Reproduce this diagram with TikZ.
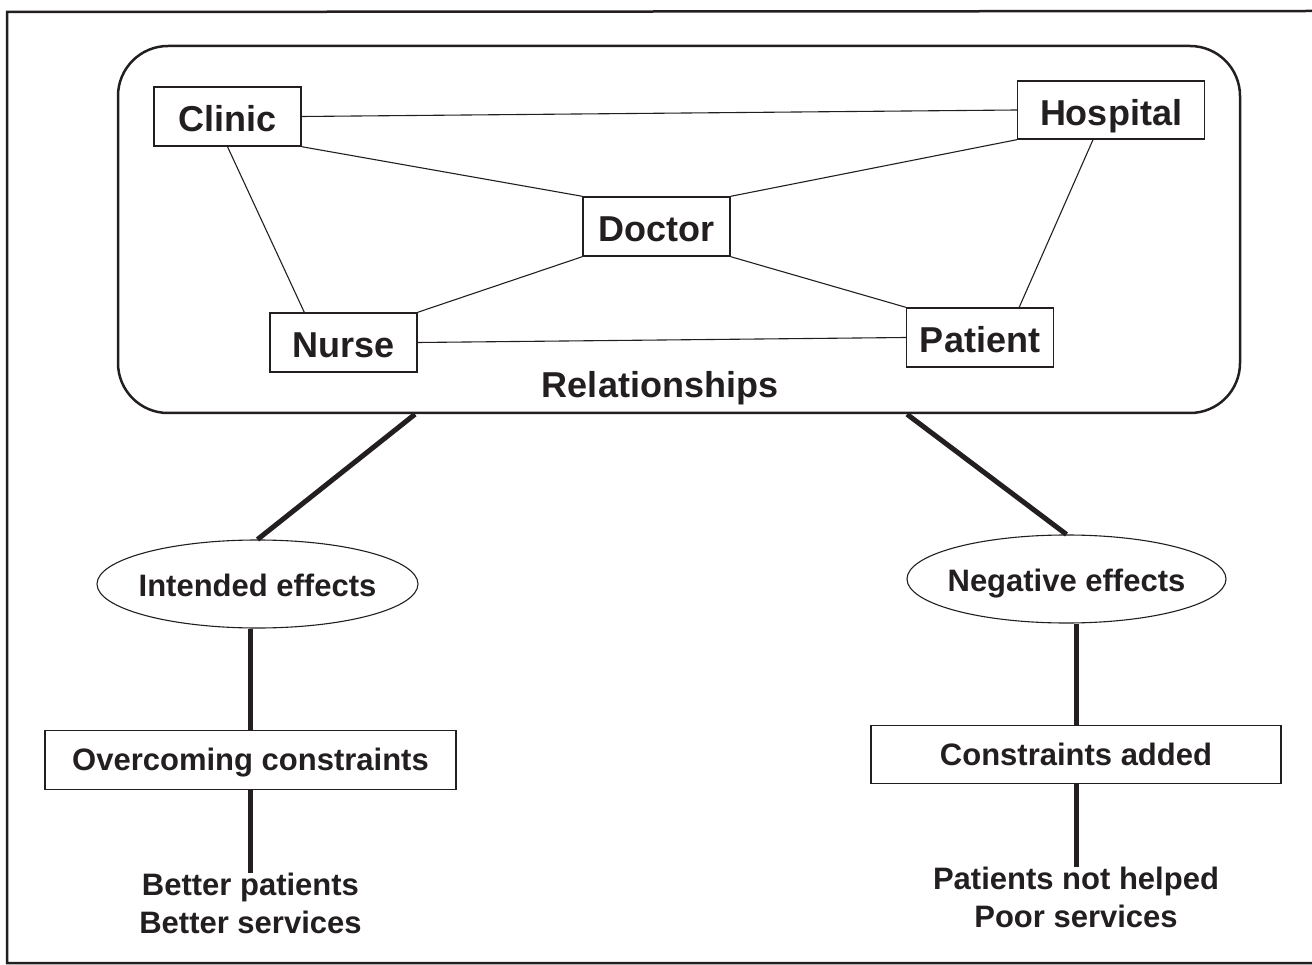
\documentclass[tikz,border=0pt]{standalone}
\usepackage{fontspec}
\setmainfont{Liberation Sans}
\usetikzlibrary{positioning,shapes.geometric}
\definecolor{ink}{RGB}{35,31,32}
\tikzset{
  actorbox/.style={draw=ink, line width=1.4pt, text=ink,
    minimum width=147pt, minimum height=59pt, inner sep=0pt,
    font=\fontsize{36}{40}\selectfont\bfseries, text height=31pt, text depth=0pt},
  effectoval/.style={ellipse, draw=ink, line width=1.1pt, text=ink,
    minimum width=321pt, minimum height=88pt, inner sep=0pt, inner xsep=-12pt,
    font=\fontsize{31}{38}\selectfont\bfseries, text height=25pt, text depth=0pt},
  resultbox/.style={draw=ink, line width=1.4pt, text=ink,
    minimum width=411pt, minimum height=59pt, inner sep=0pt,
    font=\fontsize{31}{38}\selectfont\bfseries, text height=22pt, text depth=0pt},
  outcome/.style={align=center, inner sep=0pt, text=ink,
    font=\fontsize{31}{38}\selectfont\bfseries},
  tie/.style={draw=ink, line width=1.1pt},
  link/.style={draw=ink, line width=5pt}
}

\begin{document}
\begin{tikzpicture}[x=1pt,y=-1pt]
\useasboundingbox (0,0) rectangle (1312,965);
\draw[ink, line width=2.5pt] (1312,11) -- (7,12) -- (7,963) -- (1312,963);

% relationships panel
\node[draw=ink, line width=2.5pt, rounded corners=50pt,
  minimum width=1122pt, minimum height=367pt] (relbox) at (679,229.5) {};
\node[actorbox] (clinic) at (227.5,116.5) {Clinic};
\node[actorbox, minimum width=187pt, minimum height=58pt] (hospital) at (1111,110) {Hospital};
\node[actorbox] (doctor) at (656.5,226.5) {Doctor};
\node[actorbox] (nurse) at (343.5,342.5) {Nurse};
\node[actorbox] (patient) at (980,337.5) {Patient};
\node[anchor=base, text=ink, font=\fontsize{36}{40}\selectfont\bfseries]
  (rellabel) at (660,398) {Relationships};

\draw[tie] (clinic.east) -- (hospital.west);
\draw[tie] (clinic.south east) -- (doctor.north west);
\draw[tie] (hospital.south west) -- (doctor.north east);
\draw[tie] (doctor.south west) -- (nurse.north east);
\draw[tie] (doctor.south east) -- (patient.north west);
\draw[tie] (nurse.east) -- (patient.west);
\draw[tie] (clinic.south) -- ([xshift=35pt]nurse.north west);
\draw[tie] ([xshift=-18pt]hospital.south) -- ([xshift=-35pt]patient.north east);

% effects
\node[effectoval] (intended) at (257.5,584) {Intended effects};
\node[effectoval, minimum width=319pt] (negative) at (1066.5,579) {Negative effects};
\node[resultbox, below=101pt of intended, xshift=-7pt] (overcome) {Overcoming constraints};
\node[resultbox, minimum width=410pt, minimum height=58pt,
  below=101pt of negative, xshift=9.5pt] (added) {Constraints added};
\node[outcome, below=83pt of overcome] (better) {Better patients\\Better services};
\node[outcome, below=83pt of added] (poor) {Patients not helped\\Poor services};

\draw[link] ([xshift=-264pt]relbox.south) -- (intended.north);
\draw[link] ([xshift=228pt]relbox.south) -- (negative.north);
\draw[link] (overcome.north) -- (overcome.north |- intended.south);
\draw[link] (added.north) -- (added.north |- negative.south);
\draw[link] (overcome.south) -- (better.north);
\draw[link] (added.south) -- (poor.north);
\end{tikzpicture}
\end{document}
